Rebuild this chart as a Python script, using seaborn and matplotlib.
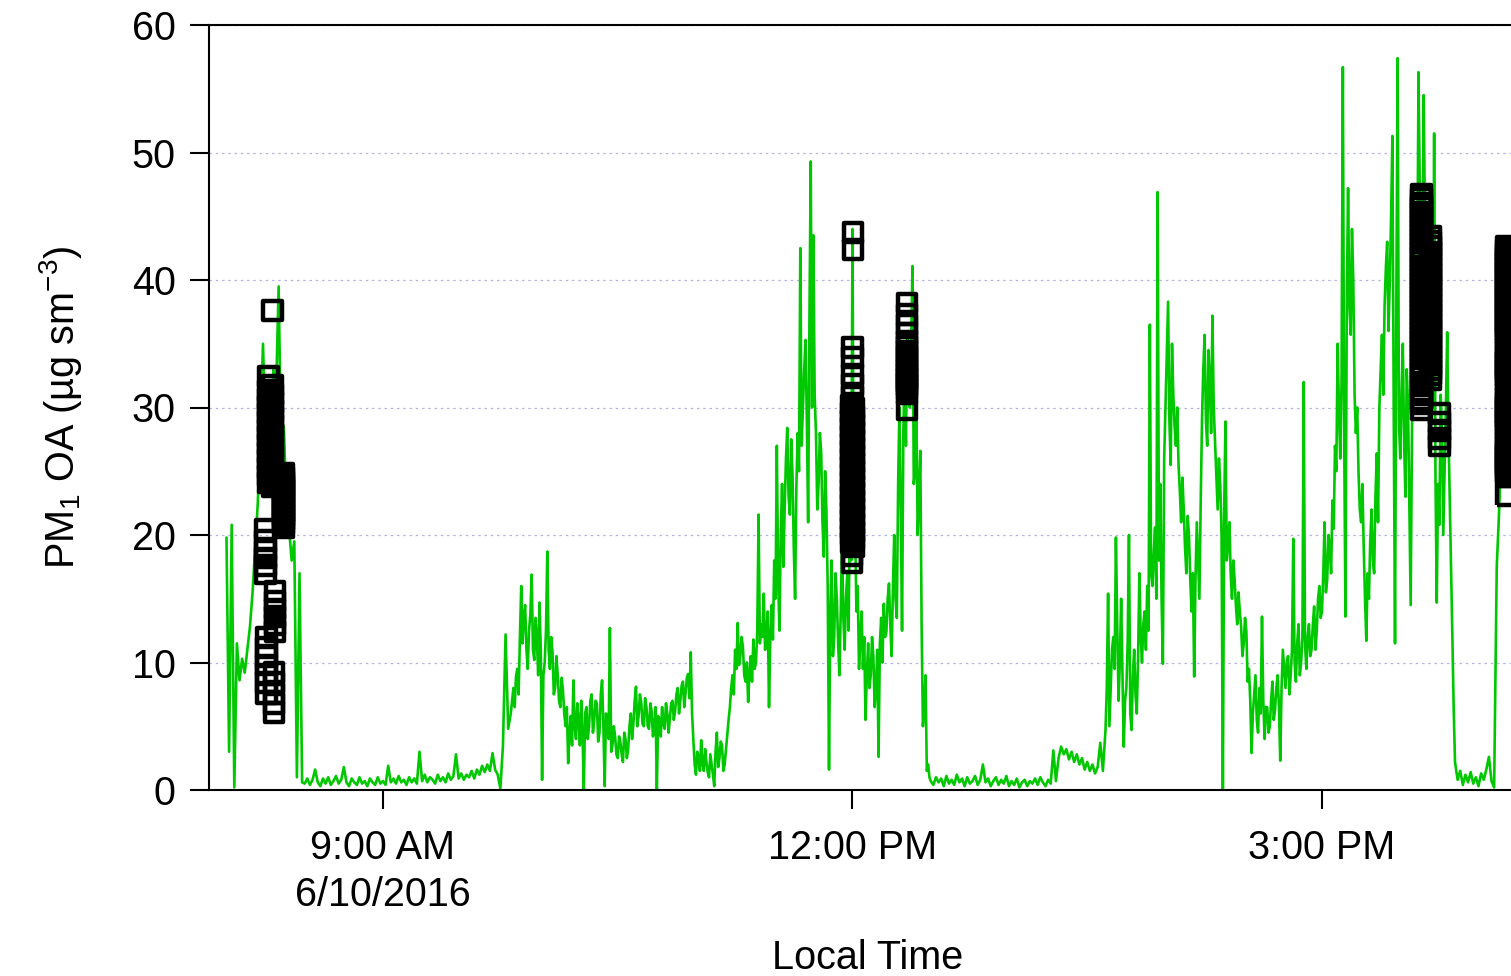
import numpy as np
import pandas as pd
import matplotlib
matplotlib.use("Agg")
import matplotlib.pyplot as plt
import matplotlib.dates as mdates
import seaborn as sns

# ---------------- data ----------------
# PM1 OA (ug sm-3), one reading per minute starting 08:00 local time, 6/10/2016
oa_08h = [19.8, 3.0, 20.8, 0.2, 11.5, 8.6, 10.3, 9.2, 11.0, 12.8,
          15.5, 19.0, 22.5, 28.0, 35.0, 27.5, 30.5, 29.0, 33.0, 31.0,
          39.5, 26.0, 28.5, 22.0, 20.5, 18.0, 19.5, 1.0, 17.0, 0.6,
          0.5, 0.9, 0.4, 0.8, 1.6, 0.6, 0.3, 0.9, 0.5, 1.0,
          0.4, 0.7, 1.1, 0.5, 0.8, 1.8, 0.6, 0.3, 0.9, 0.6,
          0.4, 1.0, 0.5, 0.7, 0.3, 0.9, 0.6, 0.4, 1.0, 0.5]
oa_09h = [0.7, 0.4, 1.9, 0.6, 0.9, 0.5, 1.1, 0.6, 0.8, 0.4,
          1.0, 0.6, 0.9, 0.5, 3.0, 0.7, 1.2, 0.6, 1.0, 0.8,
          0.5, 1.2, 0.7, 1.0, 0.6, 1.3, 0.8, 1.1, 2.8, 0.9,
          1.3, 0.8, 1.2, 1.0, 1.5, 0.9, 1.6, 1.2, 1.9, 1.4,
          2.0, 1.5, 2.9, 1.6, 1.2, 0.1, 3.5, 12.2, 4.8, 6.0,
          8.0, 8.9, 7.5, 16.0, 13.6, 11.0, 12.5, 16.9, 10.2, 12.0]
oa_10h = [14.7, 0.8, 10.0, 18.7, 9.5, 10.8, 8.0, 9.0, 6.5, 7.8,
          5.0, 2.1, 5.8, 8.6, 4.0, 5.5, 7.0, 0.0, 6.5, 5.0,
          7.5, 5.5, 6.8, 4.5, 8.6, 0.3, 5.5, 12.7, 3.5, 4.2,
          2.5, 3.8, 2.2, 4.0, 3.2, 6.0, 5.2, 8.1, 5.8, 6.9,
          5.0, 6.5, 4.8, 6.2, 5.0, 0.0, 5.5, 6.5, 4.8, 6.0,
          5.6, 7.0, 6.2, 8.0, 7.0, 8.5, 7.6, 9.1, 10.8, 3.9]
oa_11h = [1.2, 2.6, 3.9, 1.5, 2.2, 1.0, 2.0, 0.3, 4.5, 2.5,
          3.5, 2.0, 4.5, 6.5, 9.0, 11.0, 13.1, 10.5, 11.2, 8.5,
          6.9, 10.5, 11.8, 10.0, 21.6, 13.0, 15.4, 12.0, 6.5, 14.5,
          18.0, 27.0, 12.5, 24.0, 22.0, 28.4, 21.6, 24.8, 15.0, 28.0,
          42.5, 30.0, 35.3, 21.0, 49.3, 43.5, 28.0, 24.0, 26.5, 18.3,
          22.0, 1.6, 18.0, 12.0, 15.0, 9.0, 20.0, 11.0, 17.0, 22.0]
oa_12h = [44.0, 21.0, 16.0, 12.0, 9.5, 5.5, 11.5, 9.0, 10.5, 8.0,
          2.6, 13.5, 14.6, 12.4, 16.2, 10.5, 20.0, 13.5, 30.0, 12.5,
          33.0, 36.0, 30.0, 41.1, 25.0, 20.0, 26.6, 5.0, 9.0, 2.0,
          0.7, 0.4, 1.0, 0.6, 0.9, 0.3, 1.1, 0.5, 0.8, 0.4,
          1.2, 0.6, 0.9, 0.3, 1.0, 0.5, 0.7, 1.1, 0.4, 0.8,
          2.0, 0.6, 0.9, 0.3, 0.7, 1.0, 0.4, 0.8, 0.5, 1.1]
oa_13h = [0.3, 0.7, 0.4, 0.9, 0.2, 0.6, 0.8, 0.3, 0.7, 0.5,
          0.9, 0.4, 1.0, 0.6, 0.3, 0.8, 0.5, 3.1, 0.7, 2.5,
          3.4, 2.8, 3.2, 2.4, 3.0, 2.2, 2.8, 2.0, 2.5, 1.6,
          2.2, 1.5, 2.0, 1.3, 1.8, 3.7, 1.5, 4.7, 15.4, 8.0,
          12.0, 19.8, 7.0, 15.0, 3.4, 8.0, 20.0, 4.7, 11.0, 6.0,
          17.0, 10.0, 14.0, 16.0, 36.5, 16.0, 20.6, 46.9, 24.0, 9.9]
oa_14h = [30.0, 38.3, 25.5, 31.0, 27.0, 25.5, 21.0, 22.0, 17.0, 20.0,
          14.0, 8.9, 21.0, 15.0, 29.0, 35.7, 27.0, 32.0, 37.2, 27.4,
          22.0, 24.0, 0.0, 28.9, 19.3, 17.0, 18.0, 14.5, 15.5, 12.8,
          11.5, 12.5, 9.5, 2.9, 7.5, 5.5, 8.0, 13.6, 4.0, 6.5,
          5.0, 8.5, 6.3, 9.0, 2.3, 11.0, 8.0, 10.5, 9.0, 19.7,
          8.5, 13.0, 10.0, 32.0, 9.5, 13.0, 11.0, 14.4, 12.5, 16.0]
oa_15h = [14.0, 21.0, 16.5, 19.0, 22.7, 27.0, 35.0, 26.0, 56.7, 13.6,
          47.2, 35.7, 40.0, 28.0, 25.0, 21.0, 19.0, 11.7, 15.0, 22.0,
          17.0, 26.4, 30.0, 35.7, 38.0, 43.0, 40.0, 51.3, 11.5, 57.4,
          26.0, 35.0, 23.0, 30.0, 14.5, 35.0, 40.0, 56.3, 45.0, 54.5,
          38.0, 42.0, 33.0, 51.5, 14.7, 20.8, 28.0, 25.0, 35.9, 22.7,
          11.9, 2.2, 0.8, 1.5, 0.4, 1.2, 0.6, 1.4, 0.5, 1.0]
oa_16h = [0.3, 1.3, 0.8, 1.6, 2.6, 0.7, 0.2, 17.5, 22.3, 30.0,
          35.0, 38.0]

# extra half-minute readings in the busy periods (start 09:50:30 and 13:37:30)
oa_half_a = [6.5, 9.5, 12.0, 11.5, 14.5, 9.5, 13.8, 11.0, 13.5, 9.0,
             11.0, 9.0, 12.5, 11.0, 12.0, 7.5, 10.5, 7.0, 8.8, 6.0,
             6.5, 4.5, 3.5, 5.0, 6.8, 3.5, 4.5, 6.0, 4.0, 7.0,
             4.5, 7.0, 3.8, 7.5, 5.0, 6.0, 4.0, 3.0, 5.0, 2.8,
             4.2, 2.8, 4.5, 2.5, 5.0, 4.0, 7.0, 5.0, 7.5, 5.2,
             7.2, 5.0, 6.8, 4.2, 6.5, 5.8, 4.2, 5.2, 6.8, 4.5,
             6.8, 5.5, 7.5, 6.0, 8.2, 6.5, 8.8, 7.2, 6.0, 2.0,
             3.0, 1.5, 2.0, 3.2, 1.4, 2.8, 1.2, 3.0, 1.8, 3.8,
             1.5, 3.2, 5.5, 8.0, 7.5, 9.5, 9.8, 12.0, 9.0, 10.0,
             9.2, 8.5, 9.5, 12.5, 11.5, 12.0, 11.0, 14.0, 12.0, 11.8,
             15.0, 16.5, 20.0, 17.5, 26.0, 23.0, 27.5, 19.0, 24.0, 25.0,
             27.0, 33.0, 29.0, 37.0, 30.0, 31.0, 22.0, 28.0, 21.0, 25.0,
             16.0, 14.0, 10.5, 17.0, 11.5, 14.0, 13.5, 15.0, 12.5, 18.0,
             19.0, 14.0, 9.5, 14.0, 12.0, 9.0, 8.0, 12.0, 6.5, 11.0,
             11.5, 10.0, 12.0, 15.0, 13.0, 15.8, 15.0, 24.0, 22.0, 28.0,
             27.0, 31.0, 35.0, 24.0, 30.0, 23.0, 13.0, 6.4, 1.5, 1.0]
oa_half_b = [8.0, 5.0, 11.0,
             9.5, 13.0, 10.0, 9.0, 7.0, 11.5, 6.0, 9.0, 7.5, 10.5,
             12.0, 13.0, 11.0, 12.5, 17.0, 18.5, 15.0, 18.0, 15.0, 26.0,
             34.0, 29.0, 35.0, 28.5, 30.0, 23.5, 24.5, 19.0, 21.5, 16.5,
             17.0, 16.5, 18.0, 22.5, 33.0, 29.0, 34.5, 28.0, 30.0, 25.0,
             26.0, 20.0, 22.0, 18.0, 21.0, 15.0, 16.5, 13.0, 14.0, 10.5,
             13.5, 8.5, 7.0, 6.0, 9.0, 4.5, 6.0, 7.0, 6.5, 4.5,
             7.0, 5.5, 8.0, 6.5, 8.0, 9.5, 10.0, 7.5, 11.0, 10.0,
             11.5, 9.0, 12.0, 11.5, 12.0, 10.5, 13.0, 11.0, 15.0, 13.5,
             17.0, 15.5, 20.0, 17.0, 20.5, 25.0, 30.0, 32.0, 28.0, 38.0,
             38.0, 44.0, 31.0, 30.0, 22.0, 24.0, 15.0, 17.0, 19.5, 18.0,
             23.0, 21.0, 33.0, 31.0, 41.0, 36.0, 45.0, 30.0, 38.0, 29.0,
             31.0, 27.0, 33.0, 22.0, 28.0, 44.0, 38.0, 47.0, 40.0, 44.0,
             35.0, 39.0, 30.0, 25.0, 24.0, 31.0, 20.0, 30.0, 28.0, 17.0,
             6.3]

# Square markers: (minutes after 08:00, PM1 OA)
sq_0815 = [(17.5, 37.6),
           (16.0, 32.4), (17.6, 31.7), (16.0, 31.3), (17.6, 31.0), (16.0, 30.7),
           (17.6, 30.4), (16.0, 30.1), (17.6, 29.8), (16.0, 29.5), (17.6, 29.2),
           (16.0, 28.9), (17.6, 28.6), (16.0, 28.3), (17.6, 28.0), (16.0, 27.7),
           (17.6, 27.4), (16.0, 27.1), (17.6, 26.8), (16.0, 26.5), (17.6, 26.2),
           (16.0, 25.9), (17.6, 25.6), (16.0, 25.3), (17.6, 25.0), (16.0, 24.7),
           (17.6, 24.4), (16.0, 24.1), (17.6, 23.8),
           (22.0, 24.8), (22.0, 24.5), (22.0, 24.2), (22.0, 23.9), (22.0, 23.6),
           (22.0, 23.3), (22.0, 23.0), (22.0, 22.7), (22.0, 22.4), (22.0, 22.1),
           (22.0, 21.8), (22.0, 21.5), (22.0, 21.2), (22.0, 20.9), (22.0, 20.6),
           (15.1, 20.4), (15.1, 19.6), (15.1, 18.8), (15.1, 18.2), (15.1, 17.6),
           (15.1, 17.0),
           (18.6, 15.6), (18.6, 14.8), (18.6, 14.2), (18.6, 13.6), (18.6, 13.0),
           (18.6, 12.4),
           (15.2, 12.0), (15.2, 11.2), (15.2, 10.5), (15.2, 9.8), (15.2, 9.1),
           (15.2, 8.4), (15.2, 7.6),
           (18.2, 9.2), (18.2, 8.4), (18.2, 7.6), (18.2, 6.8), (18.2, 6.1)]
sq_1200 = [(240.2, 43.7), (240.2, 42.4),
           (240.0, 34.7), (240.0, 33.9), (240.0, 32.6), (240.0, 31.8), (240.0, 30.9),
           (239.7, 30.2), (240.3, 29.9), (239.7, 29.6), (240.3, 29.3), (239.7, 29.0),
           (240.3, 28.7), (239.7, 28.4), (240.3, 28.1), (239.7, 27.8), (240.3, 27.5),
           (239.7, 27.2), (240.3, 26.9), (239.7, 26.6), (240.3, 26.3), (239.7, 26.0),
           (240.3, 25.7), (239.7, 25.4), (240.3, 25.1), (239.7, 24.8), (240.3, 24.5),
           (239.7, 24.2), (240.3, 23.9), (239.7, 23.6), (240.3, 23.3), (239.7, 23.0),
           (240.3, 22.7), (239.7, 22.4), (240.3, 22.1), (239.7, 21.8), (240.3, 21.5),
           (239.7, 21.2), (240.3, 20.9), (239.7, 20.6), (240.3, 20.3), (239.7, 20.0),
           (240.3, 19.7), (239.7, 19.4), (240.3, 19.1),
           (239.8, 18.4), (239.8, 17.8)]
sq_1221 = [(260.9, 38.2), (260.9, 37.3), (260.9, 36.5), (260.9, 35.8), (260.9, 35.2),
           (260.9, 34.8), (260.9, 34.4), (260.9, 34.0), (260.9, 33.6), (260.9, 33.2),
           (260.9, 32.9), (260.9, 32.6), (260.9, 32.3), (260.9, 32.0), (260.9, 31.7),
           (260.9, 31.4), (260.9, 31.1), (260.9, 29.8)]
sq_1538 = [(458.0, 46.7), (458.0, 46.4), (458.0, 46.0), (458.0, 45.7), (458.0, 45.3),
           (458.0, 45.0), (458.0, 44.6), (458.0, 44.3), (458.0, 43.9), (458.0, 43.6),
           (458.0, 43.2), (458.0, 42.9), (458.0, 42.5), (458.0, 42.2), (458.0, 41.8),
           (458.0, 41.5), (458.0, 41.1), (458.0, 40.8), (458.0, 40.4), (458.0, 40.1),
           (458.0, 39.7), (458.0, 39.4), (458.0, 39.0), (458.0, 38.7), (458.0, 38.3),
           (458.0, 38.0), (458.0, 37.6), (458.0, 37.3), (458.0, 36.9), (458.0, 36.6),
           (458.0, 36.2), (458.0, 35.9), (458.0, 35.5), (458.0, 35.2), (458.0, 34.8),
           (458.0, 34.5), (458.0, 34.1), (458.0, 33.8), (458.0, 33.4), (458.0, 33.1),
           (458.0, 32.7), (458.0, 32.4), (458.0, 32.0), (458.0, 31.7), (458.0, 31.3),
           (458.0, 31.0), (458.0, 30.6), (458.0, 30.3), (458.0, 29.8),
           (461.6, 43.4), (461.6, 43.0), (461.6, 42.6), (461.6, 42.2), (461.6, 41.8),
           (461.6, 41.4), (461.6, 41.0), (461.6, 40.6), (461.6, 40.2), (461.6, 39.8),
           (461.6, 39.4), (461.6, 39.0), (461.6, 38.6), (461.6, 38.2), (461.6, 37.8),
           (461.6, 37.4), (461.6, 37.0), (461.6, 36.6), (461.6, 36.2), (461.6, 35.8),
           (461.6, 35.4), (461.6, 35.0), (461.6, 34.6), (461.6, 34.2), (461.6, 33.8),
           (461.6, 33.4), (461.6, 33.0), (461.6, 32.6), (461.6, 32.2),
           (465.1, 29.5), (465.1, 28.8), (465.1, 28.2), (465.1, 27.6), (465.1, 27.0)]
sq_1610 = [(490.6, 42.6), (490.6, 42.3), (490.6, 42.0), (490.6, 41.7), (490.6, 41.4),
           (490.6, 41.1), (490.6, 40.8), (490.6, 40.5), (490.6, 40.2), (490.6, 39.9),
           (490.6, 39.6), (490.6, 39.3), (490.6, 39.0), (490.6, 38.7), (490.6, 38.4),
           (490.6, 38.1), (490.6, 37.8), (490.6, 37.5), (490.6, 37.2), (490.6, 36.9),
           (490.6, 36.6), (490.6, 36.3), (490.6, 36.0), (490.6, 35.7), (490.6, 35.4),
           (490.6, 34.6), (490.6, 34.2), (490.6, 33.9), (490.6, 33.6), (490.6, 33.3),
           (490.6, 33.0), (490.6, 32.7), (490.6, 32.4), (490.6, 32.1), (490.6, 31.1),
           (490.6, 30.7), (490.6, 30.4), (490.6, 30.1), (490.6, 29.8), (490.6, 29.5),
           (490.6, 29.2), (490.6, 28.9), (490.6, 28.6), (490.6, 28.3), (490.6, 27.4),
           (490.6, 27.0), (490.6, 26.7), (490.6, 26.4), (490.6, 26.1), (490.6, 25.8),
           (490.6, 25.5), (490.6, 25.2), (490.6, 24.9), (490.6, 24.6), (490.6, 23.1)]

x_tick_times = ["09:00", "12:00", "15:00"]
x_tick_labels = ["9:00 AM\n6/10/2016", "12:00 PM", "3:00 PM"]
y_ticks = [0, 10, 20, 30, 40, 50, 60]

# ---------------- build ----------------
base = pd.Timestamp("2016-06-10 08:00")
oa_vals = oa_08h + oa_09h + oa_10h + oa_11h + oa_12h + oa_13h + oa_14h + oa_15h + oa_16h
t_main = base + pd.to_timedelta(np.arange(len(oa_vals)), unit="min")
t_half_a = pd.Timestamp("2016-06-10 09:50:30") + pd.to_timedelta(np.arange(len(oa_half_a)), unit="min")
t_half_b = pd.Timestamp("2016-06-10 13:37:30") + pd.to_timedelta(np.arange(len(oa_half_b)), unit="min")
oa_df = pd.DataFrame({
    "time": list(t_main) + list(t_half_a) + list(t_half_b),
    "oa": oa_vals + oa_half_a + oa_half_b,
}).sort_values("time").reset_index(drop=True)

sq_all = sq_0815 + sq_1200 + sq_1221 + sq_1538 + sq_1610
sq_df = pd.DataFrame({
    "time": base + pd.to_timedelta([p[0] for p in sq_all], unit="min"),
    "oa": [p[1] for p in sq_all],
})

sns.set_style("ticks")
plt.rcParams["font.family"] = ["Liberation Sans", "DejaVu Sans"]
plt.rcParams["mathtext.fontset"] = "custom"
plt.rcParams["mathtext.rm"] = "Liberation Sans"
plt.rcParams["mathtext.it"] = "Liberation Sans:italic"
plt.rcParams["mathtext.default"] = "regular"
plt.rcParams["text.color"] = "black"
plt.rcParams["axes.labelcolor"] = "black"
plt.rcParams["xtick.color"] = "black"
plt.rcParams["ytick.color"] = "black"

fig = plt.figure(figsize=(15.11, 9.76), dpi=100)
ax = fig.add_axes([209 / 1511, 1 - 790 / 976, (1527 - 209) / 1511, (790 - 25) / 976])

ax.yaxis.grid(True, linestyle=(0, (2, 3)), color="#b4b4e6", linewidth=0.9, zorder=0)
ax.set_axisbelow(True)

sns.lineplot(data=oa_df, x="time", y="oa", ax=ax, color="#00c800", linewidth=1.9,
             estimator=None, sort=False, zorder=2)
sns.scatterplot(data=sq_df, x="time", y="oa", ax=ax, marker="s", s=185,
                facecolor="none", edgecolor="black", linewidth=3.2, zorder=3)
coll = ax.collections[-1]
coll.set_facecolor("none")
coll.set_edgecolor("black")
coll.set_linewidths([3.2])

ax.set_xlim(mdates.date2num(base - pd.Timedelta(minutes=6.7)),
            mdates.date2num(base + pd.Timedelta(minutes=498.6)))
ax.set_ylim(0, 60)
ax.set_yticks(y_ticks)
ax.set_yticklabels([str(v) for v in y_ticks])
ax.set_xticks([mdates.date2num(pd.Timestamp("2016-06-10 " + t)) for t in x_tick_times])
ax.set_xticklabels(x_tick_labels, linespacing=1.3)

for side in ["left", "top", "bottom"]:
    ax.spines[side].set_linewidth(1.5)
    ax.spines[side].set_color("black")
ax.spines["right"].set_visible(False)

ax.tick_params(axis="both", direction="out", length=14, width=1.5, colors="black",
               labelsize=28.5)
ax.tick_params(axis="y", pad=10)
ax.tick_params(axis="x", pad=14)

ax.set_xlabel("Local Time", fontsize=28.5, labelpad=18)
ax.set_ylabel("PM$_1$ OA (µg sm$^{-3}$)", fontsize=28.5, labelpad=34)

fig.savefig("out.png", dpi=100)
